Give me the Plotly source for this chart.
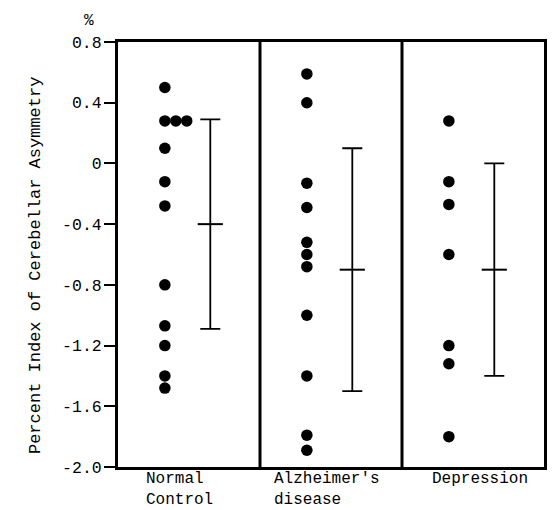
import plotly.graph_objects as go

categories = ["Normal<br>Control", "Alzheimer's<br>disease", "Depression"]
normal = [0.50, 0.28, 0.28, 0.28, 0.10, -0.12, -0.28, -0.80, -1.07, -1.20, -1.40, -1.48]
alzheimer = [0.59, 0.40, -0.13, -0.29, -0.52, -0.60, -0.68, -1.00, -1.40, -1.79, -1.89]
depression = [0.28, -0.12, -0.27, -0.60, -1.20, -1.32, -1.80]
means = [-0.40, -0.70, -0.70]
sds = [0.69, 0.80, 0.70]
y_ticks = [0.8, 0.4, 0, -0.4, -0.8, -1.2, -1.6, -2.0]
y_ticktext = ["0.8", "0.4", "0", "-0.4", "-0.8", "-1.2", "-1.6", "-2.0"]
y_title = "Percent Index of Cerebellar Asymmetry"

groups = [normal, alzheimer, depression]
FONT = "Liberation Mono"
dot_col = 0.33      # column offset within each panel
bar_col = 0.65
dup_step = 0.077

fig = go.Figure()
for i, vals in enumerate(groups):
    xs = []
    seen = {}
    for v in vals:
        k = seen.get(v, 0)
        seen[v] = k + 1
        xs.append(i + dot_col + k * dup_step)
    fig.add_trace(go.Scatter(x=xs, y=vals, mode="markers",
                             marker=dict(size=11.5, color="black"),
                             showlegend=False, hoverinfo="y"))

fig.add_trace(go.Scatter(
    x=[i + bar_col for i in range(len(categories))], y=means, mode="markers",
    marker=dict(symbol="line-ew", size=18, line=dict(width=2, color="black"), color="black"),
    error_y=dict(type="data", array=sds, visible=True, color="black", thickness=1.8, width=10),
    showlegend=False))

# panel dividers
for i in range(1, len(categories)):
    fig.add_shape(type="line", x0=i, x1=i, y0=0, y1=1, xref="x", yref="paper",
                  line=dict(color="black", width=3))

label_offsets = [0.18, 0.085, 0.20]
for i, c in enumerate(categories):
    fig.add_annotation(x=i + label_offsets[i], y=0, xref="x", yref="paper",
                       text=c, showarrow=False, xanchor="left", yanchor="top",
                       align="left", yshift=-1,
                       font=dict(family=FONT, size=16, color="black"))

fig.add_annotation(x=-0.085, y=1.0, xref="paper", yref="paper", text="%", showarrow=False,
                   yanchor="bottom", yshift=10, font=dict(family=FONT, size=16, color="black"))

fig.add_annotation(x=-0.195, y=0.475, xref="paper", yref="paper", text=y_title,
                   showarrow=False, textangle=-90, xanchor="center", yanchor="middle",
                   font=dict(family=FONT, size=17, color="black"))

fig.update_layout(
    width=552, height=510,
    margin=dict(l=118, r=5, t=42, b=43),
    paper_bgcolor="white", plot_bgcolor="white",
    font=dict(family=FONT, size=16, color="black"),
    xaxis=dict(range=[0, 3], showgrid=False, zeroline=False, showticklabels=False,
               ticks="", showline=True, linewidth=3, linecolor="black", mirror=True),
    yaxis=dict(range=[-2.0, 0.8], tickvals=y_ticks, ticktext=y_ticktext,
               showgrid=False, zeroline=False, ticks="outside", ticklen=11, tickwidth=2,
               tickcolor="black", showline=True, linewidth=3, linecolor="black", mirror=True,
               ticklabelstandoff=-1,
               tickfont=dict(family=FONT, size=16.5)),
)

fig.write_html("out.html")
